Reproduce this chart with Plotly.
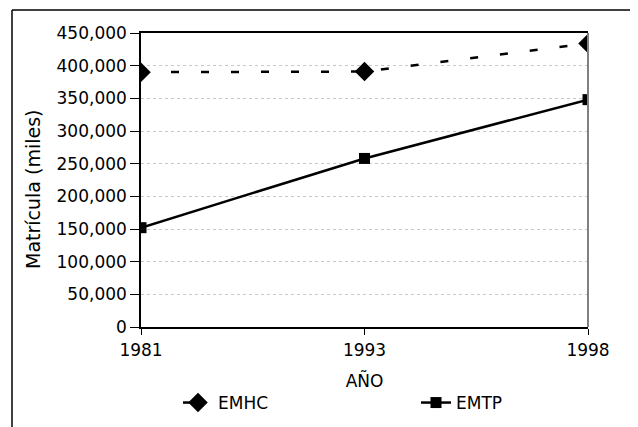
import plotly.graph_objects as go

years = ["1981", "1993", "1998"]
emhc = [390000, 391000, 434000]
emtp = [152000, 258000, 348000]
y_ticks = [0, 50000, 100000, 150000, 200000, 250000, 300000, 350000, 400000, 450000]

FONT = "DejaVu Sans, Verdana, sans-serif"

fig = go.Figure()
fig.add_trace(go.Scatter(
    x=years, y=emhc, name="EMHC", mode="lines+markers", legend="legend",
    line=dict(color="black", width=2.5, dash="8px,22px"),
    marker=dict(symbol="diamond", size=15, color="black"),
))
fig.add_trace(go.Scatter(
    x=years, y=emtp, name="EMTP", mode="lines+markers", legend="legend2",
    line=dict(color="black", width=2.5),
    marker=dict(symbol="square", size=11, color="black"),
))

# page offset of the figure inside the browser window (body margin)
OFF = 8
L, R, T, B = 141 - OFF, 58, 33 - OFF, 108
W, H = 638, 427
pw, ph = W - L - R, H - T - B

def px_x(px):
    return (px - OFF - L) / pw

def px_y(py):
    return (H - B - (py - OFF)) / ph

leg_common = dict(
    orientation="h", xanchor="left", yanchor="middle",
    font=dict(size=17), bgcolor="rgba(0,0,0,0)",
)

fig.update_layout(
    width=W, height=H,
    margin=dict(l=L, r=R, t=T, b=B, autoexpand=False),
    paper_bgcolor="white", plot_bgcolor="white",
    font=dict(family=FONT, size=17, color="black"),
    showlegend=True,
    legend=dict(x=px_x(178), y=px_y(403), **leg_common),
    legend2=dict(x=px_x(416), y=px_y(403), **leg_common),
    xaxis=dict(
        type="category", range=[0, 2], automargin=False,
        showline=True, linecolor="black", linewidth=2, mirror=True,
        ticks="outside", ticklen=6, tickcolor="black", ticklabelstandoff=1,
        showgrid=False, zeroline=False,
        title=dict(text="AÑO", standoff=16, font=dict(size=17)),
        tickfont=dict(size=17),
    ),
    yaxis=dict(
        range=[0, 450000], tickvals=y_ticks, tickformat=",", automargin=False,
        showline=True, linecolor="black", linewidth=1.5,
        ticks="outside", ticklen=9, tickcolor="black",
        showgrid=True, gridcolor="#c8c8c8", gridwidth=1, griddash="dot",
        zeroline=False,
        tickfont=dict(size=17),
    ),
    annotations=[
        dict(text="Matrícula (miles)", textangle=-90, showarrow=False,
             xref="paper", yref="paper", x=px_x(33), y=px_y(189),
             xanchor="center", yanchor="middle", font=dict(size=19)),
    ],
    shapes=[
        dict(type="line", xref="paper", yref="paper", x0=1, x1=1, y0=0, y1=1,
             line=dict(color="#808080", width=2)),
        dict(type="line", xref="paper", yref="paper",
             x0=px_x(12), x1=px_x(650), y0=px_y(10), y1=px_y(10),
             line=dict(color="black", width=1.5)),
        dict(type="line", xref="paper", yref="paper",
             x0=px_x(12), x1=px_x(12), y0=px_y(10), y1=px_y(440),
             line=dict(color="black", width=1.5)),
    ],
)

fig.write_html("out.html")
